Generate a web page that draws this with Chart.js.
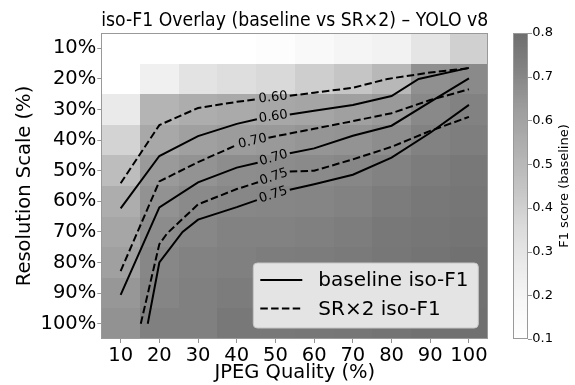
<!DOCTYPE html>
<html><head><meta charset="utf-8">
<script src="https://cdn.jsdelivr.net/npm/chart.js@4.4.1/dist/chart.umd.min.js"></script>
<style>html,body{margin:0;padding:0;background:#fff;}canvas{display:block;}</style>
</head><body>
<canvas id="c" width="575" height="385"></canvas>
<script>
// ---------- data ----------
const quality = [10,20,30,40,50,60,70,80,90,100];
const resolution = [10,20,30,40,50,60,70,80,90,100];
const xTickLabels = ['10','20','30','40','50','60','70','80','90','100'];
const yTickLabels = ['10%','20%','30%','40%','50%','60%','70%','80%','90%','100%'];
const cbarTicks = [0.1,0.2,0.3,0.4,0.5,0.6,0.7,0.8];
const cbarTickLabels = ['0.1','0.2','0.3','0.4','0.5','0.6','0.7','0.8'];

// baseline F1, rows = resolution 10%..100%, cols = JPEG quality 10..100
const f1Res10  = [0.08,0.08,0.08,0.09,0.12,0.16,0.20,0.22,0.30,0.40];
const f1Res20  = [0.09,0.23,0.31,0.34,0.365,0.41,0.445,0.50,0.67,0.69];
const f1Res30  = [0.27,0.52,0.55,0.565,0.58,0.59,0.61,0.635,0.695,0.72];
const f1Res40  = [0.39,0.575,0.61,0.63,0.64,0.655,0.66,0.68,0.72,0.735];
const f1Res50  = [0.48,0.635,0.66,0.68,0.685,0.69,0.70,0.72,0.745,0.76];
const f1Res60  = [0.55,0.665,0.69,0.70,0.705,0.71,0.72,0.745,0.76,0.77];
const f1Res70  = [0.585,0.685,0.70,0.72,0.72,0.73,0.74,0.76,0.77,0.78];
const f1Res80  = [0.61,0.70,0.72,0.73,0.74,0.745,0.755,0.765,0.78,0.79];
const f1Res90  = [0.645,0.71,0.73,0.745,0.755,0.76,0.765,0.775,0.785,0.79];
const f1Res100 = [0.665,0.73,0.73,0.76,0.76,0.765,0.77,0.78,0.79,0.795];
const baselineF1 = [f1Res10,f1Res20,f1Res30,f1Res40,f1Res50,f1Res60,f1Res70,f1Res80,f1Res90,f1Res100];

// iso-F1 contour paths [quality, resolution]; null = gap for inline label
const baseIso060 = [[10,62.3],[20,45.2],[30,38.7],[40,34.7],[45.2,33.2],null,[53.7,31.6],[60,30.4],[70,28.5],[80,25.6],[87,20],[100,16.4]];
const baseIso070 = [[10,90.6],[20,62],[30,53.8],[40,49],[45.4,47.4],null,[53.7,44.3],[60,42.7],[70,38.6],[80,35.3],[90,27.5],[100,19.8]];
const baseIso075 = [[17,100],[20,80],[26,70],[30,66],[40,61.9],[45.2,59.6],null,[53.7,56.2],[60,54.4],[70,51.3],[80,45.7],[90,37.6],[100,28.5]];
const srIso060 = [[10,54.1],[20,35.1],[30,29.5],[40,27.5],[45.1,26.7],null,[53.7,25.5],[60,24.5],[70,22.9],[79,20],[90,17.9],[100,16.5]];
const srIso070 = [[10,82.8],[20,53.5],[30,47.2],[40,41.6],null,[48.2,39.2],[60,36.3],[70,33.8],[80,31.2],[90,26.9],[100,23.4]];
const srIso075 = [[15.2,100],[20,74],[22,70.5],[30,61],[40,56],[45.5,53.8],null,[53.7,50.3],[60,50],[70,46.3],[80,42.2],[90,37],[100,32.4]];
const isoLabels = ['0.60','0.70','0.75','0.60','0.70','0.75'];
const legendLabels = ['baseline iso-F1','SR×2 iso-F1'];

// ---------- styling helpers ----------
const FONT = 'DejaVu Sans';
const GREYS = [255,240,217,189,150,115,82,37,0];
const VMIN = 0.1, VMAX = 0.8, ALPHA = 0.565;
function grey(v){
  let t = (v - VMIN) / (VMAX - VMIN); t = Math.max(0, Math.min(1, t));
  const p = t * 8, i = Math.min(7, Math.floor(p)), f = p - i;
  const g = GREYS[i] + (GREYS[i+1] - GREYS[i]) * f;
  const d = Math.round(255 - ALPHA * (255 - g));
  return 'rgb(' + d + ',' + d + ',' + d + ')';
}
function toPts(arr){
  return arr.map((p, i) => p ? {x: p[0], y: p[1]} : {x: arr[i-1][0], y: null});
}
function fixBox(size, isH){
  return s => {
    if (isH) s.height = size; else s.width = size;
    s.paddingTop = 0; s.paddingBottom = 0; s.paddingLeft = 0; s.paddingRight = 0;
  };
}
const DASH = [7.5, 3.3];

const paths = [baseIso060, baseIso070, baseIso075, srIso060, srIso070, srIso075];
const datasets = paths.map((p, k) => ({
  label: legendLabels[k < 3 ? 0 : 1],
  data: toPts(p),
  borderColor: '#000',
  borderWidth: 2,
  borderDash: k < 3 ? [] : DASH,
  pointRadius: 0,
  tension: 0,
  spanGaps: false,
  fill: false
}));

const heatPlugin = {
  id: 'heat',
  beforeDatasetsDraw(chart){
    const {ctx, scales: {x, y}} = chart;
    const hq = (quality[1] - quality[0]) / 2, hr = (resolution[1] - resolution[0]) / 2;
    ctx.save();
    resolution.forEach((r, i) => quality.forEach((q, j) => {
      const x0 = Math.round(x.getPixelForValue(q - hq)), x1 = Math.round(x.getPixelForValue(q + hq));
      const y0 = Math.round(y.getPixelForValue(r - hr)), y1 = Math.round(y.getPixelForValue(r + hr));
      ctx.fillStyle = grey(baselineF1[i][j]);
      ctx.fillRect(Math.min(x0, x1), Math.min(y0, y1), Math.abs(x1 - x0), Math.abs(y1 - y0));
    }));
    ctx.restore();
  },
  afterDatasetsDraw(chart){
    const {ctx, chartArea: a, scales: {x, y, y2}} = chart;
    // inline contour labels
    ctx.save();
    ctx.font = '13px "' + FONT + '"';
    ctx.fillStyle = '#000';
    ctx.textAlign = 'center';
    ctx.textBaseline = 'middle';
    paths.forEach((p, k) => {
      const gi = p.indexOf(null);
      if (gi < 1) return;
      const A = p[gi-1], B = p[gi+1];
      const ax = x.getPixelForValue(A[0]), ay = y.getPixelForValue(A[1]);
      const bx = x.getPixelForValue(B[0]), by = y.getPixelForValue(B[1]);
      const ang = Math.atan2(by - ay, bx - ax);
      ctx.save();
      ctx.translate((ax + bx) / 2, (ay + by) / 2);
      ctx.rotate(ang);
      ctx.fillText(isoLabels[k], 0, 0);
      ctx.restore();
    });
    ctx.restore();

    // axes frame
    ctx.save();
    ctx.strokeStyle = '#999';
    ctx.lineWidth = 1;
    ctx.strokeRect(Math.round(a.left) + 0.5, Math.round(a.top) + 0.5, Math.round(a.right - a.left) - 1, Math.round(a.bottom - a.top) - 1);
    ctx.restore();

    // legend
    ctx.save();
    const lx = a.left + 152, ly = a.top + 230, lw = 225, lh = 65, rad = 4;
    ctx.beginPath();
    ctx.moveTo(lx + rad, ly);
    ctx.arcTo(lx + lw, ly, lx + lw, ly + lh, rad);
    ctx.arcTo(lx + lw, ly + lh, lx, ly + lh, rad);
    ctx.arcTo(lx, ly + lh, lx, ly, rad);
    ctx.arcTo(lx, ly, lx + lw, ly, rad);
    ctx.closePath();
    ctx.fillStyle = 'rgba(228,228,228,1)';
    ctx.fill();
    ctx.strokeStyle = '#c6c6c6';
    ctx.lineWidth = 1;
    ctx.stroke();
    ctx.font = '20px "' + FONT + '"';
    ctx.textBaseline = 'middle';
    ctx.textAlign = 'left';
    ctx.fillStyle = '#000';
    [0, 1].forEach(k => {
      const yy = ly + 17 + k * 28.5;
      ctx.beginPath();
      ctx.setLineDash(k === 0 ? [] : DASH);
      ctx.lineWidth = 2;
      ctx.strokeStyle = '#000';
      ctx.moveTo(lx + 7, yy);
      ctx.lineTo(lx + 49, yy);
      ctx.stroke();
      ctx.setLineDash([]);
      ctx.fillText(legendLabels[k], lx + 65, yy + 1);
    });
    ctx.restore();

    // colorbar
    ctx.save();
    const cx0 = Math.round(a.right + 24.5), cw = 15;
    const steps = 140;
    for (let s = 0; s < steps; s++) {
      const v0 = VMIN + (VMAX - VMIN) * s / steps, v1 = VMIN + (VMAX - VMIN) * (s + 1) / steps;
      const p0 = y2.getPixelForValue(v0), p1 = y2.getPixelForValue(v1);
      ctx.fillStyle = grey((v0 + v1) / 2);
      ctx.fillRect(cx0, Math.floor(p1), cw, Math.ceil(p0) - Math.floor(p1));
    }
    ctx.strokeStyle = '#999';
    ctx.lineWidth = 1;
    ctx.strokeRect(cx0 + 0.5, Math.round(a.top) + 0.5, cw - 1, Math.round(a.bottom - a.top) - 1);
    ctx.strokeStyle = '#777';
    ctx.lineWidth = 0.8;
    cbarTicks.forEach(v => {
      const py = Math.round(y2.getPixelForValue(v)) + 0.5;
      ctx.beginPath();
      ctx.moveTo(cx0 + cw, py);
      ctx.lineTo(cx0 + cw + 4, py);
      ctx.stroke();
    });
    ctx.fillStyle = '#000';
    ctx.font = '13px "' + FONT + '"';
    ctx.textAlign = 'center';
    ctx.textBaseline = 'middle';
    ctx.translate(565, (a.top + a.bottom) / 2);
    ctx.rotate(-Math.PI / 2);
    ctx.fillText('F1 score (baseline)', 0, 0);
    ctx.restore();
  }
};

const tickFont = {family: FONT, size: 19.5, lineHeight: 1.2};
new Chart(document.getElementById('c'), {
  type: 'line',
  data: {datasets},
  plugins: [heatPlugin],
  options: {
    responsive: false,
    animation: false,
    devicePixelRatio: 1,
    layout: {padding: 0},
    plugins: {
      legend: {display: false},
      tooltip: {enabled: false},
      title: {
        display: true,
        text: 'iso-F1 Overlay (baseline vs SR×2) – YOLO v8',
        fullSize: false,
        color: '#000',
        font: {family: FONT, size: 20, weight: 'normal', lineHeight: 1.2},
        padding: {top: 9, bottom: 0}
      }
    },
    scales: {
      x: {
        type: 'linear', min: 5, max: 105,
        afterBuildTicks: s => { s.ticks = quality.map(v => ({value: v})); },
        afterFit: fixBox(46, true),
        ticks: {callback: (v, i) => xTickLabels[i], font: tickFont, color: '#000', padding: 1, maxRotation: 0, autoSkip: false},
        grid: {drawOnChartArea: false, drawTicks: true, tickLength: 4, color: '#777', lineWidth: 0.8},
        border: {display: false},
        title: {display: true, text: 'JPEG Quality (%)', color: '#000', font: tickFont, padding: {top: 0, bottom: 0}}
      },
      y: {
        type: 'linear', reverse: true, min: 5, max: 105,
        afterBuildTicks: s => { s.ticks = resolution.map(v => ({value: v})); },
        afterFit: fixBox(101.3, false),
        ticks: {callback: (v, i) => yTickLabels[i], font: tickFont, color: '#000', padding: 1, autoSkip: false},
        grid: {drawOnChartArea: false, drawTicks: true, tickLength: 4, color: '#777', lineWidth: 0.8},
        border: {display: false},
        title: {display: true, text: 'Resolution Scale (%)', color: '#000', font: tickFont, padding: {top: 13.3, bottom: 0}}
      },
      y2: {
        type: 'linear', position: 'right', min: 0.1, max: 0.8,
        afterBuildTicks: s => { s.ticks = cbarTicks.map(v => ({value: v})); },
        afterFit: fixBox(86.7, false),
        ticks: {callback: (v, i) => cbarTickLabels[i], font: {family: FONT, size: 13}, color: '#000', padding: 44, autoSkip: false},
        grid: {drawOnChartArea: false, drawTicks: false, display: true},
        border: {display: false}
      }
    }
  }
});
</script>
</body></html>
